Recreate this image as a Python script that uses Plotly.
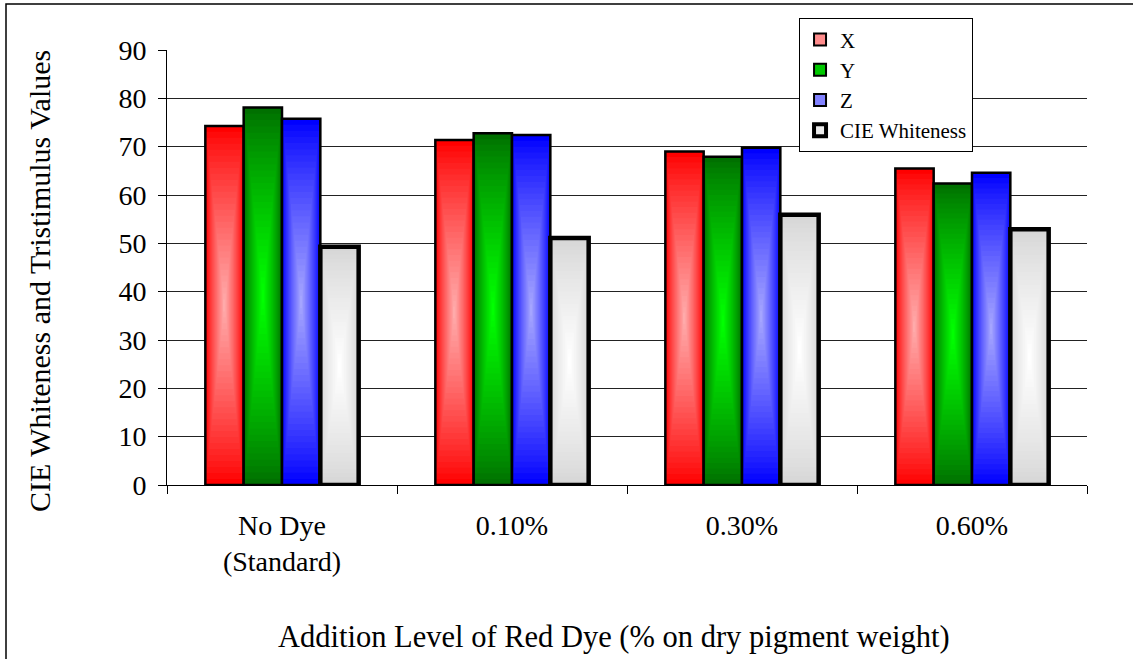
import plotly.graph_objects as go

# Addition levels of red dye and the measured colour values
categories = ["No Dye<br>(Standard)", "0.10%", "0.30%", "0.60%"]
x_values = [74.3, 71.4, 69.0, 65.5]
y_values = [78.1, 72.8, 67.9, 62.4]
z_values = [75.8, 72.4, 69.8, 64.6]
whiteness_values = [49.3, 51.1, 55.9, 52.9]

series_names = ["X", "Y", "Z", "CIE Whiteness"]
series_values = [x_values, y_values, z_values, whiteness_values]

# edge colour, centre colour, swatch colour, outline width for each series
edge_colors = [(255, 0, 0), (0, 112, 0), (0, 0, 255), (214, 214, 214)]
center_colors = [(255, 170, 170), (0, 255, 0), (165, 165, 255), (255, 255, 255)]
swatch_colors = ["#ff8c8c", "#00c800", "#8282ff", "#ececec"]
outline_widths = [2.5, 2.5, 2.5, 4.5]

FONT = "Liberation Serif"
N_LAYERS = 30
BAR_W = 1 / 6  # bar width in category units

fig = go.Figure()


def mix(c0, c1, t):
    return "rgb({},{},{})".format(*[round(a + (b - a) * t) for a, b in zip(c0, c1)])


for s, (vals, c_edge, c_mid) in enumerate(zip(series_values, edge_colors, center_colors)):
    center = (s - 1.5) * BAR_W
    # concentric rectangles give a "from centre" gradient fill
    for k in range(N_LAYERS):
        f = 1 - k / N_LAYERS
        t = (k / (N_LAYERS - 1)) ** 0.85
        fig.add_trace(go.Bar(
            x=categories,
            y=[v * f for v in vals],
            base=[v * (1 - f) / 2 for v in vals],
            width=BAR_W * f,
            offset=center - BAR_W * f / 2,
            marker=dict(color=mix(c_edge, c_mid, t), line=dict(width=0)),
            showlegend=False,
            hoverinfo="skip",
        ))
    # black outline on top
    fig.add_trace(go.Bar(
        x=categories,
        y=vals,
        width=BAR_W,
        offset=center - BAR_W / 2,
        marker=dict(color="rgba(0,0,0,0)", line=dict(color="black", width=outline_widths[s])),
        showlegend=False,
        name=series_names[s],
    ))

# legend swatches
for s, name in enumerate(series_names):
    fig.add_trace(go.Scatter(
        x=[None], y=[None], mode="markers", name=name,
        legendgroup=name,
        marker=dict(symbol="square", size=12, color=swatch_colors[s],
                    line=dict(color="black", width=2 if s < 3 else 4)),
    ))

fig.update_layout(
    width=1133, height=659,
    margin=dict(l=167, r=46, t=50, b=174),
    paper_bgcolor="white", plot_bgcolor="white",
    barmode="overlay",
    font=dict(family=FONT, color="black", size=28),
    showlegend=True,
    legend=dict(
        x=0.687, y=1.073, xanchor="left", yanchor="top",
        bgcolor="white", bordercolor="black", borderwidth=1,
        font=dict(family=FONT, size=21, color="black"),
        traceorder="grouped", tracegroupgap=0,
    ),
    xaxis=dict(
        type="category", categoryorder="array", categoryarray=categories,
        range=[-0.5, 3.5],
        tickson="boundaries", ticks="outside", ticklen=8, tickcolor="black",
        showline=True, linecolor="black", linewidth=1,
        showgrid=False, zeroline=False,
        tickfont=dict(family=FONT, size=28, color="black"),
        ticklabelstandoff=15,
    ),
    yaxis=dict(
        range=[0, 90], dtick=10, tick0=0,
        ticks="outside", ticklen=8, tickcolor="black",
        showline=True, linecolor="black", linewidth=1,
        showgrid=True, gridcolor="#222222", gridwidth=1,
        zeroline=False,
        tickfont=dict(family=FONT, size=28, color="black"),
        ticklabelstandoff=6,
    ),
    annotations=[
        dict(text="CIE Whiteness and Tristimulus Values", xref="paper", yref="paper",
             x=-0.138, y=0.469, xanchor="center", yanchor="middle",
             textangle=-90, showarrow=False,
             font=dict(family=FONT, size=30, color="black")),
        dict(text="Addition Level of Red Dye (% on dry pigment weight)", xref="paper", yref="paper",
             x=0.486, y=-0.349, xanchor="center", yanchor="middle", showarrow=False,
             font=dict(family=FONT, size=30.5, color="black")),
    ],
    shapes=[
        dict(type="rect", xref="paper", yref="paper",
             x0=-0.175, x1=1.2, y0=-0.5, y1=1.1057,
             line=dict(color="black", width=1.5), fillcolor="rgba(0,0,0,0)", layer="below"),
    ],
)

fig.write_html("out.html")
